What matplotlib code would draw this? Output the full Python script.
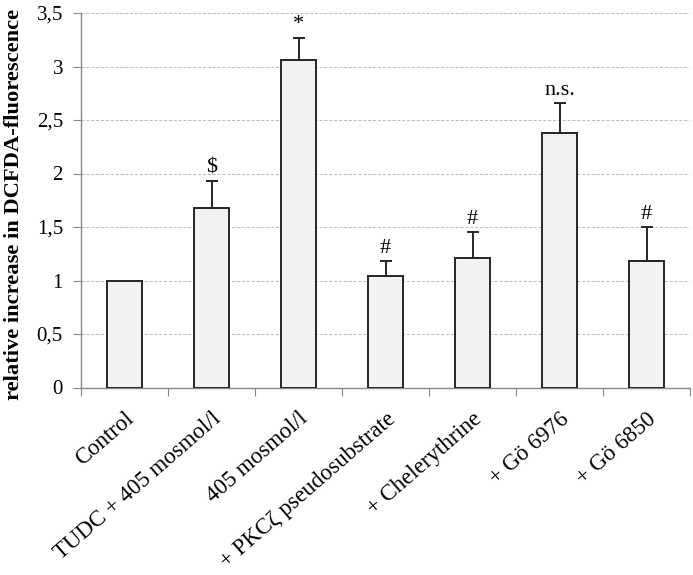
import matplotlib
matplotlib.use("Agg")
import matplotlib.pyplot as plt
from matplotlib.ticker import FuncFormatter
from matplotlib.transforms import ScaledTranslation
import numpy as np

categories = ["Control", "TUDC + 405 mosmol/l", "405 mosmol/l",
              "+ PKCζ pseudosubstrate", "+ Chelerythrine", "+ Gö 6976", "+ Gö 6850"]
values = [1.00, 1.68, 3.06, 1.04, 1.21, 2.38, 1.18]
errors = [0.0, 0.25, 0.21, 0.14, 0.24, 0.28, 0.32]
marks = ["", "$", "*", "#", "#", "n.s.", "#"]
yticks = [0, 0.5, 1, 1.5, 2, 2.5, 3, 3.5]

plt.rcParams['font.family'] = ['Liberation Serif', 'DejaVu Serif']

fig = plt.figure(figsize=(6.93, 5.75), dpi=100)
ax = fig.add_axes([81/693, 1-387.5/575, 609/693, 374.5/575])

x = np.arange(len(categories))
ax.bar(x, values, width=0.4, color="#f2f2f2", edgecolor="#262626", linewidth=1.4, zorder=3)
for xi, v, e, m in zip(x, values, errors, marks):
    if e > 0:
        ax.errorbar(xi, v, yerr=[[0], [e]], fmt="none", ecolor="#262626",
                    elinewidth=1.4, capsize=4, capthick=1.4, zorder=4)
    if m:
        ax.text(xi, v + e + 0.03, m, ha="center", va="bottom", fontsize=16, zorder=5)

ax.set_xlim(-0.5, len(categories) - 0.5)
ax.set_ylim(0, 3.5)
ax.set_yticks(yticks)
ax.yaxis.set_major_formatter(FuncFormatter(lambda v, p: ("%g" % v).replace(".", ",")))
ax.grid(axis="y", color="#b8b8b8", linestyle=(0, (3, 2)), linewidth=0.7, zorder=0)

ax.set_xticks(np.arange(len(categories) + 1) - 0.5)
ax.set_xticklabels([])
ax.set_xticks(x, minor=True)
ax.set_xticklabels(categories, minor=True, rotation=41, ha="right", va="top",
                   rotation_mode="anchor", fontsize=16.5)
ax.tick_params(axis="x", which="minor", length=0, pad=15)
ax.tick_params(axis="x", which="major", length=6, color="#888888", direction="out")
ax.tick_params(axis="y", length=6, color="#888888", labelsize=15, pad=7)
shift = ScaledTranslation(0, 0, fig.dpi_scale_trans)
for lbl in ax.get_xticklabels(minor=True):
    lbl.set_transform(lbl.get_transform() + shift)

for s in ["top", "right"]:
    ax.spines[s].set_visible(False)
for s in ["left", "bottom"]:
    ax.spines[s].set_color("#888888")
    ax.spines[s].set_linewidth(1.0)

ax.set_ylabel("relative increase in DCFDA-fluorescence", fontsize=16.2, fontweight="bold")
ax.yaxis.set_label_coords(-0.093, 0.49)

fig.savefig("out.png", dpi=100)
